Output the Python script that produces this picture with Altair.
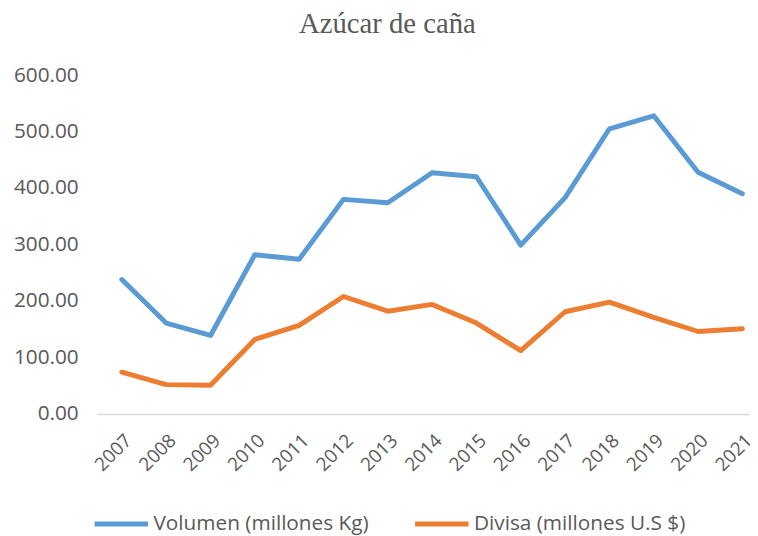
import altair as alt
import pandas as pd

years = [2007, 2008, 2009, 2010, 2011, 2012, 2013, 2014, 2015, 2016, 2017, 2018, 2019, 2020, 2021]
volumen = [238, 161, 139, 282, 274, 380, 374, 427, 420, 299, 383, 505, 528, 428, 390]
divisa = [74, 52, 51, 132, 157, 208, 182, 194, 161, 112, 181, 198, 171, 146, 151]
series_names = ["Volumen (millones Kg)", "Divisa (millones U.S $)"]
y_ticks = [0, 100, 200, 300, 400, 500, 600]

rows = []
for i, yr in enumerate(years):
    rows.append({"year": yr, "serie": series_names[0], "value": volumen[i]})
    rows.append({"year": yr, "serie": series_names[1], "value": divisa[i]})
df = pd.DataFrame(rows)

font = "Open Sans"
gray = "#595959"

chart = alt.Chart(df).mark_line(strokeWidth=5, strokeCap="round", strokeJoin="round").encode(
    x=alt.X("year:Q",
            scale=alt.Scale(domain=[2006.44, 2021.15], nice=False, zero=False),
            axis=alt.Axis(values=years, format="d", labelAngle=-45, labelAlign="right",
                          labelBaseline="top", labelPadding=17, ticks=False, grid=False,
                          domainColor="#D9D9D9", domainWidth=1.5, labelColor=gray,
                          labelFont=font, labelFontSize=19, title=None, labelOverlap=False,
                          labelFlush=False)),
    y=alt.Y("value:Q",
            scale=alt.Scale(domain=[0, 600], nice=False),
            axis=alt.Axis(values=y_ticks, format=".2f", ticks=False, grid=False, domain=False,
                          labelColor=gray, labelFont=font, labelFontSize=21, labelPadding=19,
                          title=None)),
    color=alt.Color("serie:N",
                    scale=alt.Scale(domain=series_names, range=["#5B9BD5", "#ED7D31"]),
                    sort=series_names,
                    legend=alt.Legend(title=None, orient="none", direction="horizontal",
                                      legendX=-5, legendY=424, symbolType="stroke",
                                      symbolStrokeWidth=5, symbolSize=2916,
                                      labelFont=font, labelFontSize=21, labelColor=gray,
                                      labelOffset=3, columnPadding=36, labelLimit=400)),
).properties(
    width=659,
    height=342.5,
    title=alt.TitleParams("Azúcar de caña", font="Liberation Serif", fontSize=29,
                          fontWeight="normal", color=gray, anchor="middle", offset=26, dx=-36),
    autosize=alt.AutoSizeParams(type="none"),
    padding={"left": 90, "top": 65, "right": 1, "bottom": 120},
).configure_view(stroke=None)

chart.save("out.html", embed_options={"renderer": "svg", "actions": False})
